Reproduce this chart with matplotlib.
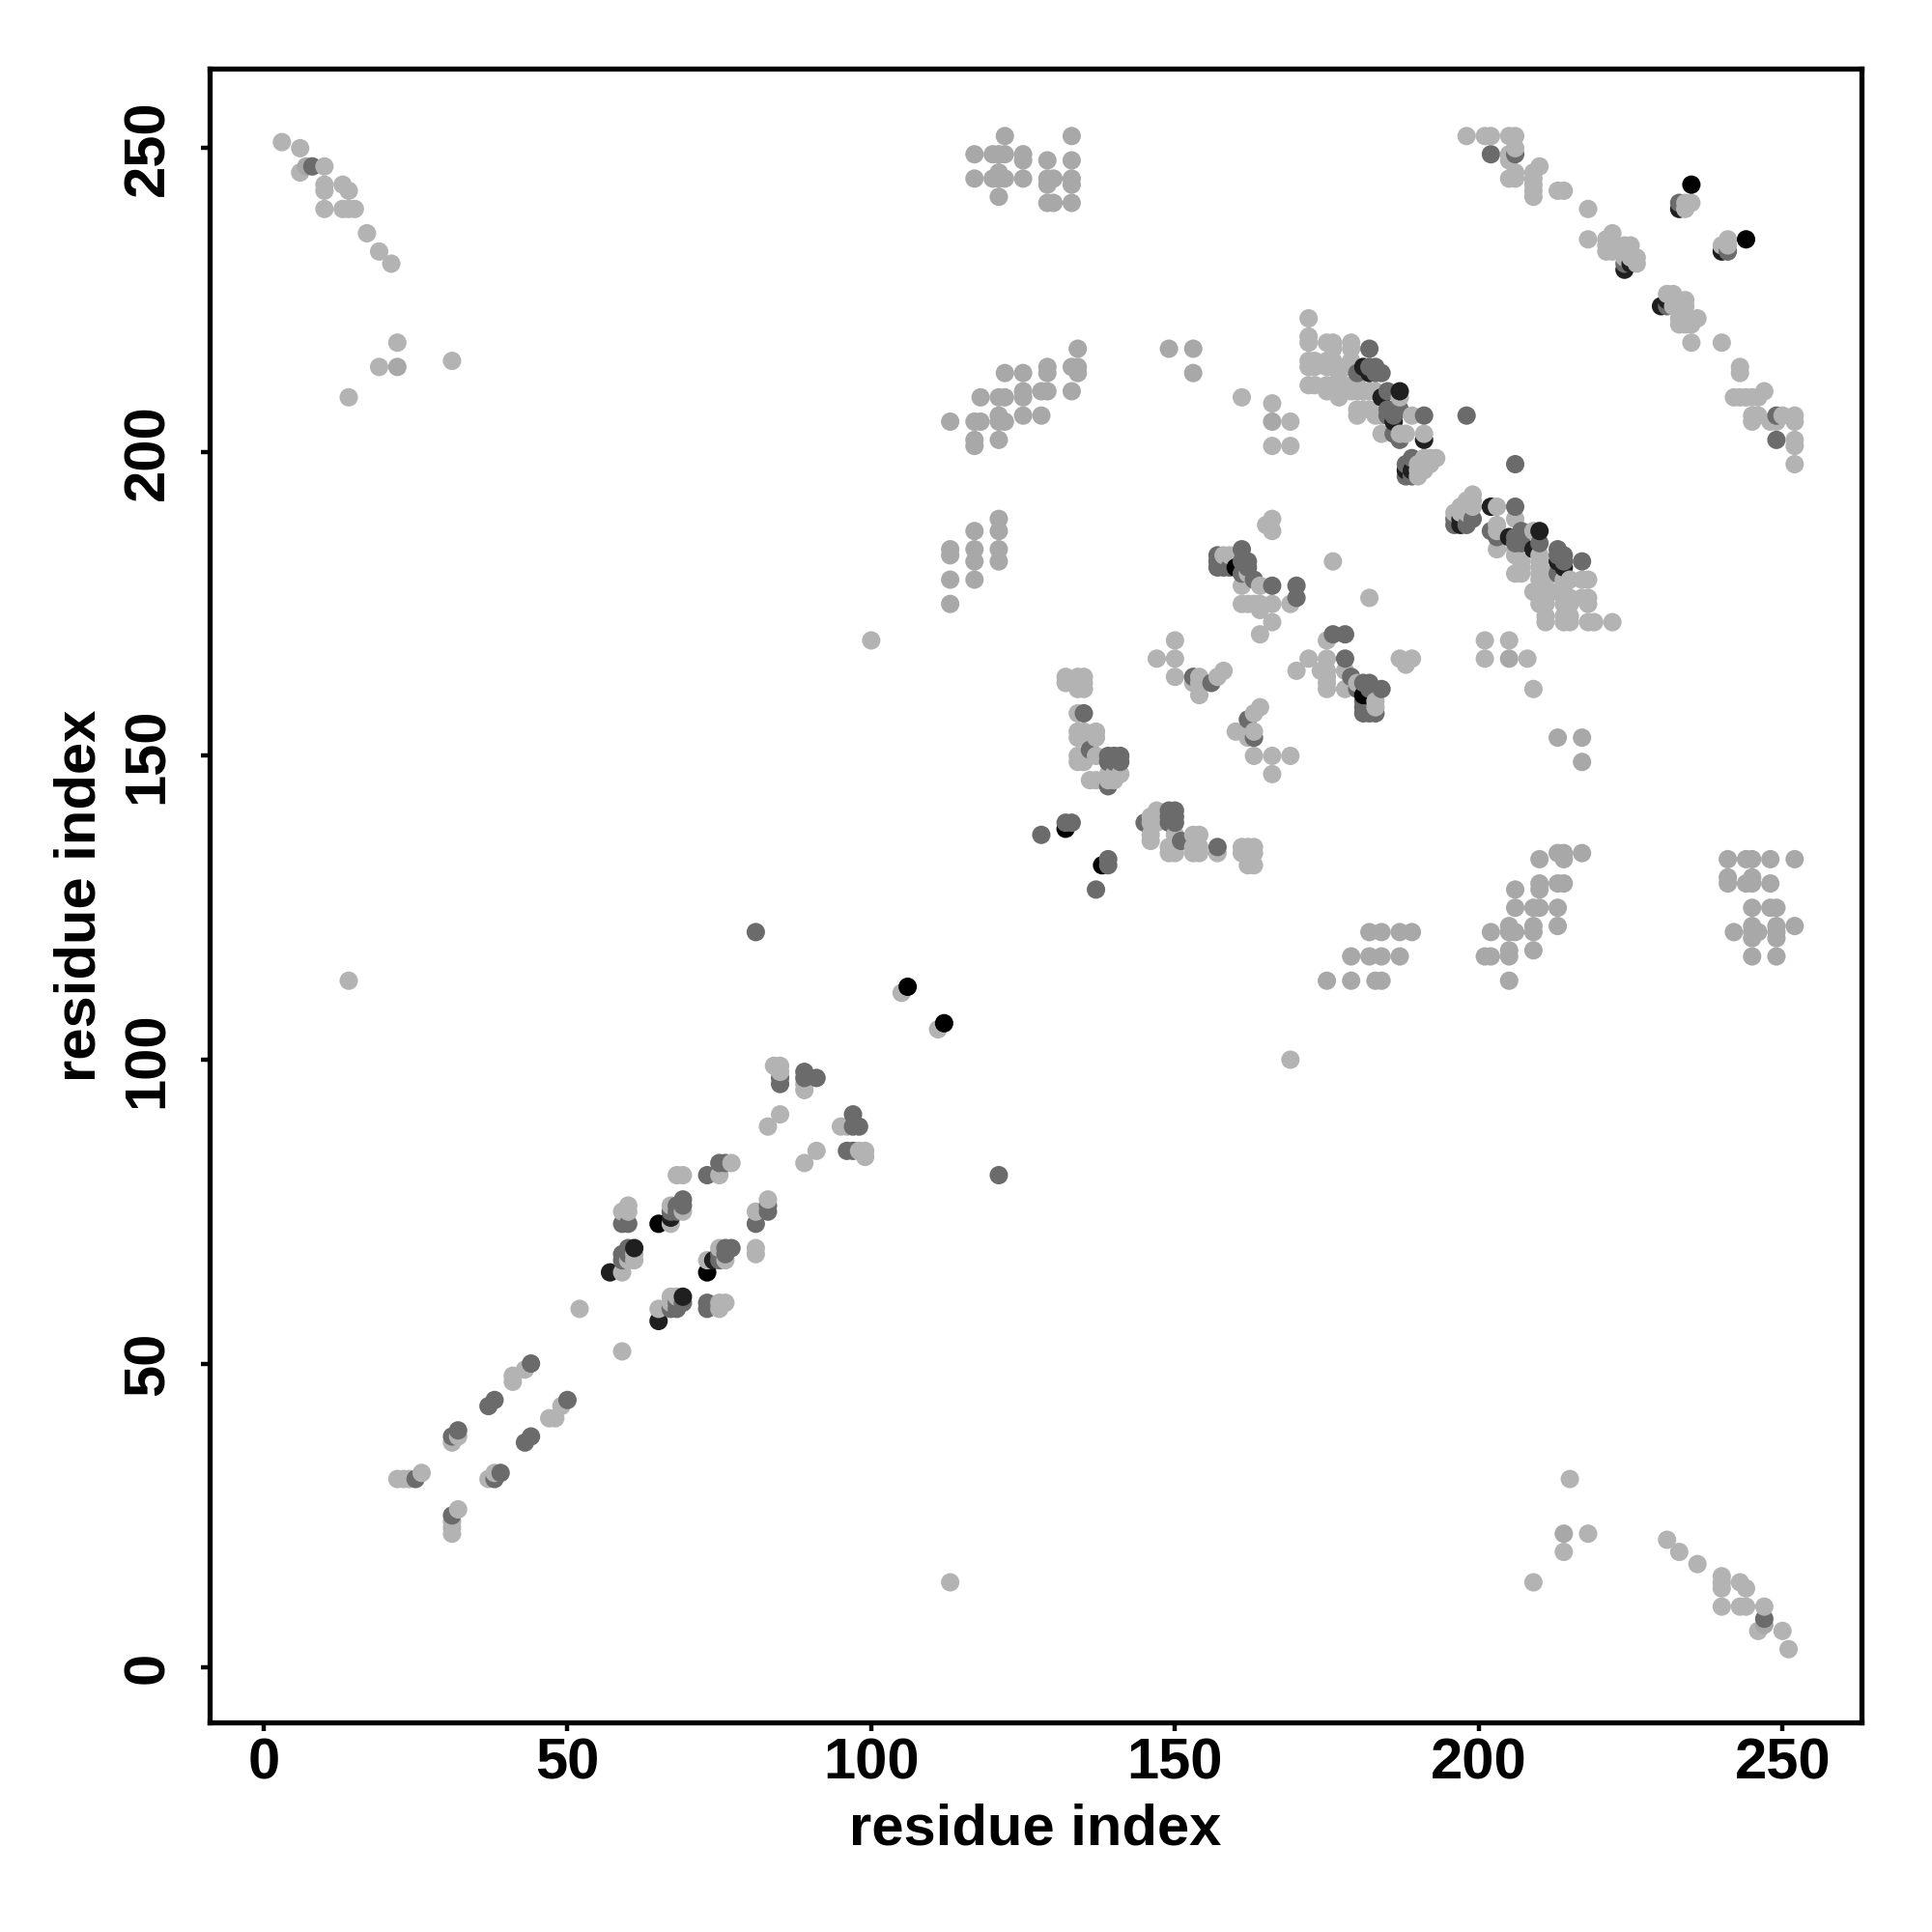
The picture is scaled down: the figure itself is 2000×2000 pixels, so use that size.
import matplotlib
matplotlib.use("Agg")
import matplotlib.pyplot as plt
import numpy as np

plt.rcParams['font.family'] = ['Liberation Sans', 'DejaVu Sans']
plt.rcParams['font.weight'] = 'bold'

# contacts (i < j), the map is symmetric so each one is drawn twice
light = [(3,251),(6,250),(6,246),(10,247),(10,244),(10,243),(10,240),(13,244),(13,240),(14,243),
    (14,240),(15,240),(17,236),(19,233),(21,231),(14,209),(19,214),(22,218),(31,215),(14,113),
    (22,31),(23,31),(24,31),(26,32),(31,37),(32,38),(41,47),(41,48),(43,49),(52,59),
    (59,65),(60,67),(61,67),(61,68),(59,75),(60,75),(60,76),(67,73),(67,76),(69,75),
    (68,81),(69,81),(75,81),(77,83),(83,89),(85,91),(84,99),(85,98),(85,99),(89,95),(89,96),
    (105,111),(100,169),
    (132,163),(132,162),(134,163),(135,163),(134,162),(135,162),(134,161),(135,161),(134,157),
    (134,153),(135,153),(134,154),(135,154),(137,154),(137,153),(134,150),(135,150),(135,149),
    (134,149),(137,150),(136,146),(137,146),(139,146),(140,146),(139,147),(140,147),(141,147),
    (150,169),(147,166),(150,166),(150,163),(154,163),(153,162),(154,162),(154,160),(157,163),(158,164),
    (158,183),(159,183),(162,180),(164,178),(161,178),(161,175),(162,175),(163,175),(164,175),(166,175),
    (164,174),(166,172),(164,170),(169,175),(176,182),(166,189),(166,187),(165,188),
    (161,209),(166,208),(166,201),(169,205),(169,201),
    (172,222),(172,219),(172,218),(175,218),(176,218),(176,217),(179,218),(179,217),(172,215),
    (172,214),(173,215),(173,214),(175,215),(175,214),(176,214),(176,215),(177,214),(177,213),(179,215),
    (179,214),(178,214),(172,211),(173,211),(175,211),(175,210),(176,211),(176,210),(177,211),
    (177,210),(177,209),(179,211),(179,210),(180,210),(181,210),(182,210),(183,210),(180,211),(187,209),
    (180,207),(180,206),(181,207),(183,206),(182,207),(184,206),(189,206),(184,203),(187,203),
    (188,203),(191,203),(193,199),(192,199),(191,198),(191,197),(190,196),(190,198),(191,199),
    (192,198),(190,197),
    (198,252),(201,252),(202,252),(205,252),(206,252),(206,250),(205,249),(205,248),(205,245),
    (206,245),(206,246),(209,242),(209,243),(209,244),(209,245),(209,246),(210,247),(213,243),
    (214,243),(218,240),(218,235),(221,233),(221,234),(221,235),(222,233),(222,234),(222,236),
    (224,234),(225,234),(224,232),(225,232),(226,232),(226,231),(234,240),(234,241),(235,241)]

# slightly darker light grey, the off-diagonal blocks
soft = [(7,247),(22,214),
    (117,249),(117,245),(120,249),(121,249),(122,249),(122,252),(120,245),(121,245),(121,246),(122,245),(121,242),
    (125,249),(125,248),(125,245),(129,248),(129,245),(130,245),(129,244),(129,241),
    (130,241),(133,252),(133,248),(133,245),(133,244),(133,241),
    (134,217),(133,214),(134,214),(134,213),(129,214),(129,213),(125,213),(122,213),(128,210),
    (129,210),(133,210),(125,210),(125,209),(118,209),(121,209),(122,209),(125,206),(128,206),
    (113,205),(117,205),(118,205),(121,206),(121,205),(122,205),(117,202),(117,201),(121,202),
    (149,217),(153,217),(153,213),(166,205),
    (121,189),(121,187),(117,187),(113,184),(113,183),(117,184),(117,182),(121,184),(121,182),
    (113,179),(117,179),(113,175)]

mid = [(8,247),(25,31),(31,38),(32,39),(37,43),(38,44),(44,50),
    (59,67),(59,68),(60,68),(60,69),(59,73),(60,73),(67,75),(68,75),(68,76),(69,76),(69,77),
    (73,81),(75,83),(76,83),(85,96),(85,97),(89,97),(89,98),(91,97),(81,121),
    (135,157),(136,151),(139,150),(140,150),(141,150),(139,149),(140,149),(141,149),(139,145),
    (132,139),(133,139),(128,137),(153,163),(156,162),
    (157,183),(157,182),(157,181),(158,181),(159,181),(161,184),(161,182),(162,182),
    (162,181),(161,180),(163,179),(166,178),(170,178),(170,176),
    (182,217),(180,213),(182,214),(183,214),(183,213),(184,213),(185,210),(185,207),(185,206),
    (186,206),(186,207),(187,207),(191,206),(198,206),(186,203),(187,202),(189,199),(188,198),
    (189,196),(188,196),
    (202,249),(206,249),(224,231),(233,241)]

dark = [(57,65),(61,69),(67,74),(181,214),(182,213),(184,209),(187,210),(186,205),(191,202),
    (188,197),(189,197),(224,230),(225,231),(233,240)]

black = [(65,73),(106,112),(132,138),(160,181),(235,244)]

groups = [(light, 0.70), (soft, 0.66), (mid, 0.42), (dark, 0.12), (black, 0.0)]
ticks = [0, 50, 100, 150, 200, 250]

xs, ys, gr = [], [], []
for pairs, g in groups:
    for i, j in pairs:
        xs += [i, j]
        ys += [j, i]
        gr += [g, g]
xs = np.array(xs)
ys = np.array(ys)
gr = np.array(gr)
order = np.lexsort((ys, xs))

fig = plt.figure(figsize=(10, 10), dpi=200)
ax = fig.add_axes([217/2000, 217/2000, 1710/2000, 1712/2000])
ax.scatter(xs[order], ys[order], s=47, c=[str(v) for v in gr[order]], linewidths=0, zorder=2)

ax.set_xlim(-8.9, 263)
ax.set_ylim(-9.05, 263.1)
ax.set_xticks(ticks)
ax.set_yticks(ticks)
ax.tick_params(length=3.4, width=1.6, labelsize=21.5)
ax.tick_params(axis='x', pad=2.3)
ax.tick_params(axis='y', pad=9.5)
for lab in ax.get_yticklabels():
    lab.set_rotation(90)
    lab.set_va('center')
for s in ax.spines.values():
    s.set_linewidth(1.9)
ax.set_xlabel('residue index', fontsize=21.5, fontweight='bold')
ax.set_ylabel('residue index', fontsize=21.5, fontweight='bold')
ax.xaxis.set_label_coords(0.5, -0.049)
ax.yaxis.set_label_coords(-0.062, 0.5)

fig.savefig('out.png', dpi=200, facecolor='white')
